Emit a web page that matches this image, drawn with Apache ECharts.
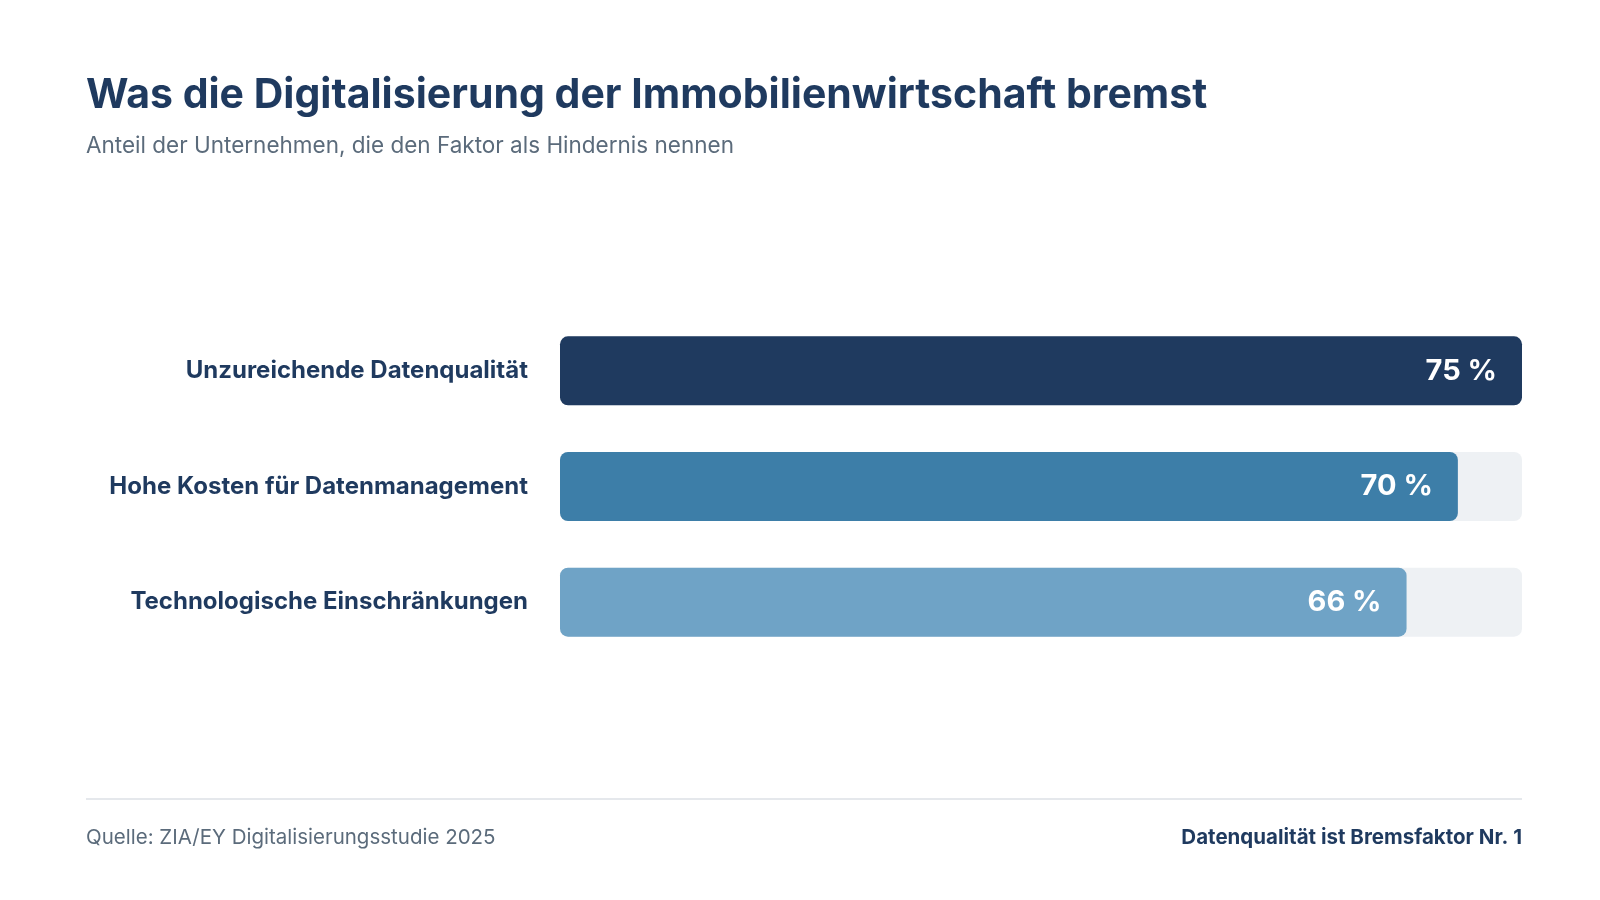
<!DOCTYPE html>
<html>
<head>
<meta charset="utf-8">
<script src="https://cdn.jsdelivr.net/npm/echarts@6/dist/echarts.min.js"></script>
<style>html,body{margin:0;background:#fff}#c{width:1600px;height:900px}</style>
</head>
<body>
<div id="c"></div>
<script>
const categories = ['Unzureichende Datenqualität', 'Hohe Kosten für Datenmanagement', 'Technologische Einschränkungen'];
const values = [75, 70, 66];
const colors = ['#1f3a5f', '#3d7ea8', '#6fa3c6'];

const chart = echarts.init(document.getElementById('c'));
const font = 'Inter, "Noto Sans", sans-serif';
chart.setOption({
    backgroundColor: '#fff',
    title: [
        {text: 'Was die Digitalisierung der Immobilienwirtschaft bremst', left: 81, top: 70,
         textStyle: {fontFamily: font, fontSize: 41, fontWeight: 'bold', color: '#1f3a5f'}},
        {text: 'Anteil der Unternehmen, die den Faktor als Hindernis nennen', left: 81, top: 130,
         textStyle: {fontFamily: font, fontSize: 22.5, fontWeight: 'normal', color: '#5b6b7b'}}
    ],
    grid: {left: 560, right: 78, top: 313, bottom: 240},
    xAxis: {type: 'value', min: 0, max: 75, show: false},
    yAxis: {
        type: 'category', inverse: true, data: categories,
        axisLine: {show: false}, axisTick: {show: false},
        axisLabel: {margin: 32, fontFamily: font, fontSize: 24, fontWeight: 'bold', color: '#1f3a5f'}
    },
    series: [{
        type: 'bar', barWidth: 69,
        showBackground: true,
        backgroundStyle: {color: '#eef1f4', borderRadius: 8},
        data: values.map((v, i) => ({value: v, itemStyle: {color: colors[i], borderRadius: 8}})),
        label: {show: true, position: 'insideRight', distance: 25, formatter: '{c} %',
                fontFamily: font, fontSize: 29, fontWeight: 'bold', color: '#fff'}
    }],
    graphic: [
        {type: 'line', shape: {x1: 86, y1: 799, x2: 1522, y2: 799}, style: {stroke: '#e5e8ec', lineWidth: 2}},
        {type: 'text', left: 86, top: 827, style: {text: 'Quelle: ZIA/EY Digitalisierungsstudie 2025',
            font: '20.5px ' + font, fill: '#5b6b7b'}},
        {type: 'text', right: 78, top: 827, style: {text: 'Datenqualität ist Bremsfaktor Nr. 1',
            font: 'bold 20.5px ' + font, fill: '#1f3a5f'}}
    ]
});
</script>
</body>
</html>
